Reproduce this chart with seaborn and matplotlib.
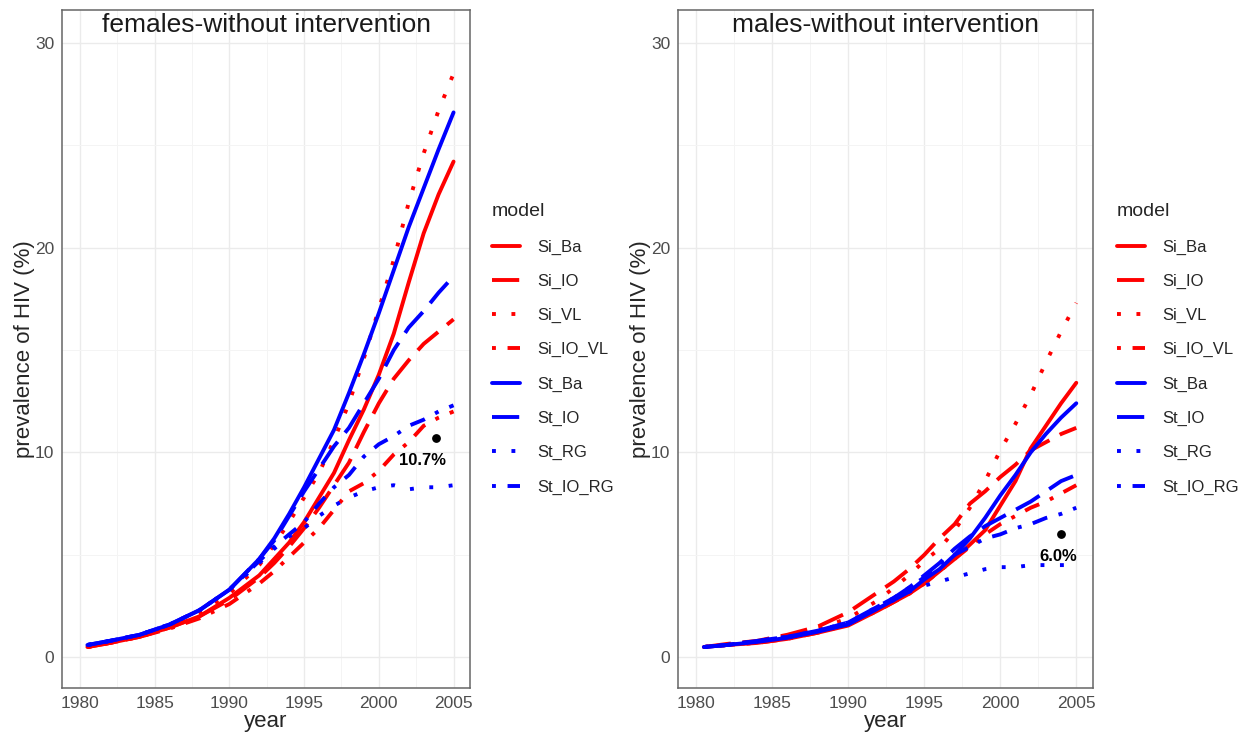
import matplotlib
matplotlib.use("Agg")
import matplotlib.pyplot as plt
import pandas as pd
import seaborn as sns
from matplotlib.ticker import MultipleLocator

# time points (years)
years = [1980.5, 1982, 1984, 1986, 1988, 1990, 1992, 1993, 1994, 1995,
         1996, 1997, 1998, 1999, 2000, 2001, 2002, 2003, 2004, 2005]

models = ["Si_Ba", "Si_IO", "Si_VL", "Si_IO_VL", "St_Ba", "St_IO", "St_RG", "St_IO_RG"]

# females, prevalence of HIV (%)
f_Si_Ba = [0.5, 0.7, 1.0, 1.45, 2.0, 2.9, 4.0, 4.8, 5.6, 6.6, 7.8, 9.0, 10.6, 12.1, 13.8, 15.8, 18.3, 20.7, 22.6, 24.2]
f_Si_IO = [0.5, 0.7, 1.0, 1.45, 2.0, 2.8, 3.9, 4.6, 5.4, 6.3, 7.3, 8.4, 9.5, 11.0, 12.4, 13.6, 14.5, 15.3, 15.9, 16.5]
f_Si_VL = [0.5, 0.75, 1.05, 1.5, 2.2, 3.1, 4.5, 5.5, 6.6, 7.8, 9.0, 10.6, 12.4, 14.6, 17.0, 19.4, 22.2, 24.6, 26.7, 28.5]
f_Si_IO_VL = [0.5, 0.7, 1.0, 1.4, 1.9, 2.6, 3.6, 4.2, 4.9, 5.6, 6.3, 7.2, 8.1, 8.5, 9.1, 9.9, 10.5, 11.3, 11.7, 12.0]
f_St_Ba = [0.6, 0.8, 1.1, 1.6, 2.3, 3.3, 4.8, 5.8, 7.0, 8.3, 9.7, 11.1, 12.9, 14.8, 16.8, 18.9, 21.0, 22.9, 24.8, 26.6]
f_St_IO = [0.6, 0.8, 1.1, 1.6, 2.3, 3.3, 4.8, 5.7, 6.9, 8.1, 9.2, 10.3, 11.2, 12.4, 13.6, 15.0, 16.1, 16.9, 17.8, 18.6]
f_St_RG = [0.6, 0.8, 1.1, 1.6, 2.3, 3.3, 4.6, 5.3, 5.9, 6.3, 6.9, 7.4, 7.8, 8.1, 8.3, 8.4, 8.2, 8.3, 8.3, 8.4]
f_St_IO_RG = [0.6, 0.8, 1.1, 1.6, 2.3, 3.3, 4.7, 5.4, 6.0, 6.6, 7.5, 8.3, 8.9, 9.8, 10.4, 10.8, 11.3, 11.6, 12.0, 12.3]

# males, prevalence of HIV (%)
m_Si_Ba = [0.5, 0.6, 0.7, 0.9, 1.2, 1.55, 2.3, 2.7, 3.1, 3.6, 4.2, 4.8, 5.5, 6.2, 7.4, 8.6, 10.2, 11.3, 12.4, 13.4]
m_Si_IO = [0.5, 0.65, 0.8, 1.1, 1.5, 2.2, 3.2, 3.7, 4.3, 5.0, 5.8, 6.5, 7.5, 8.1, 8.8, 9.4, 10.1, 10.5, 10.9, 11.2]
m_Si_VL = [0.5, 0.6, 0.75, 1.0, 1.4, 1.9, 2.8, 3.4, 4.0, 4.7, 5.3, 6.2, 7.3, 8.6, 10.1, 11.4, 12.8, 14.4, 15.9, 17.3]
m_Si_IO_VL = [0.5, 0.6, 0.7, 0.9, 1.2, 1.6, 2.3, 2.7, 3.1, 3.6, 4.2, 4.8, 5.4, 6.0, 6.5, 6.9, 7.3, 7.6, 8.0, 8.4]
m_St_Ba = [0.5, 0.6, 0.75, 0.95, 1.25, 1.6, 2.4, 2.8, 3.2, 3.8, 4.3, 5.0, 5.8, 6.8, 7.9, 8.9, 10.0, 10.9, 11.7, 12.4]
m_St_IO = [0.5, 0.6, 0.8, 1.0, 1.3, 1.7, 2.5, 2.9, 3.4, 4.0, 4.6, 5.3, 5.9, 6.4, 6.8, 7.2, 7.6, 8.1, 8.6, 8.9]
m_St_RG = [0.5, 0.6, 0.8, 1.0, 1.3, 1.7, 2.4, 2.8, 3.2, 3.5, 3.7, 3.9, 4.1, 4.3, 4.4, 4.4, 4.5, 4.5, 4.5, 4.5]
m_St_IO_RG = [0.5, 0.6, 0.8, 1.0, 1.3, 1.7, 2.5, 2.9, 3.4, 3.9, 4.5, 5.0, 5.4, 5.8, 6.0, 6.3, 6.5, 6.8, 7.0, 7.3]

females = [f_Si_Ba, f_Si_IO, f_Si_VL, f_Si_IO_VL, f_St_Ba, f_St_IO, f_St_RG, f_St_IO_RG]
males = [m_Si_Ba, m_Si_IO, m_Si_VL, m_Si_IO_VL, m_St_Ba, m_St_IO, m_St_RG, m_St_IO_RG]

# highlighted points
f_point = (2003.8, 10.7)
m_point = (2004.0, 6.0)


def to_long(series_list):
    rows = []
    for m, vals in zip(models, series_list):
        for yr, v in zip(years, vals):
            rows.append({"year": yr, "prev": v, "model": m})
    return pd.DataFrame(rows)


sns.set_theme(style="whitegrid")
plt.rcParams['font.family'] = ['Liberation Sans', 'DejaVu Sans']

palette = {m: ("red" if m.startswith("Si") else "blue") for m in models}
line_dashes = {
    "Si_Ba": "", "Si_IO": (7, 3), "Si_VL": (1, 4), "Si_IO_VL": (1, 3, 4, 3),
    "St_Ba": "", "St_IO": (7, 3), "St_RG": (1, 4), "St_IO_RG": (1, 3, 4, 3),
}

fig = plt.figure(figsize=(12.47, 7.36), dpi=100)
ax1 = fig.add_axes([62 / 1247, 1 - 688 / 736, 408 / 1247, 678 / 736])
ax2 = fig.add_axes([678 / 1247, 1 - 688 / 736, 415 / 1247, 678 / 736])

panels = [
    (ax1, females, "females-without intervention", f_point, "10.7%", (2002.9, 9.6), 1.054),
    (ax2, males, "males-without intervention", m_point, "6.0%", (2003.8, 4.9), 1.058),
]

for ax, data, title, pt, lab, lab_xy, leg_x in panels:
    df = to_long(data)
    sns.lineplot(data=df, x="year", y="prev", hue="model", style="model",
                 palette=palette, dashes=line_dashes, linewidth=2.8,
                 errorbar=None, ax=ax)
    ax.scatter([pt[0]], [pt[1]], color="black", s=28, zorder=5)
    ax.text(lab_xy[0], lab_xy[1], lab, ha="center", va="center",
            fontsize=12, fontweight="bold", color="black")

    ax.set_xlim(1978.8, 2006.1)
    ax.set_ylim(-1.5, 31.6)
    ax.xaxis.set_major_locator(MultipleLocator(5))
    ax.xaxis.set_minor_locator(MultipleLocator(2.5))
    ax.yaxis.set_major_locator(MultipleLocator(10))
    ax.yaxis.set_minor_locator(MultipleLocator(5))
    ax.grid(which="major", color="#EBEBEB", linewidth=1.0)
    ax.grid(which="minor", color="#F4F4F4", linewidth=0.7)
    ax.tick_params(which="major", length=3.5, width=0.8, color="#555555",
                   labelcolor="#4D4D4D", labelsize=12.5, pad=2)
    ax.tick_params(which="minor", length=0)
    for s in ax.spines.values():
        s.set_color("#666666")
        s.set_linewidth(1.1)

    ax.set_xlabel("year", fontsize=16, labelpad=0)
    ax.set_ylabel("prevalence of HIV (%)", fontsize=16, labelpad=0)
    ax.text(0.5, 0.995, title, transform=ax.transAxes, ha="center", va="top",
            fontsize=19, color="#1A1A1A")

    sns.move_legend(ax, "upper left", bbox_to_anchor=(leg_x, 0.715),
                    frameon=False, title="model", fontsize=12, title_fontsize=14,
                    handlelength=1.7, labelspacing=1.15, borderpad=0,
                    borderaxespad=0, alignment="left", handletextpad=1.0)

fig.savefig("out.png", dpi=100)
